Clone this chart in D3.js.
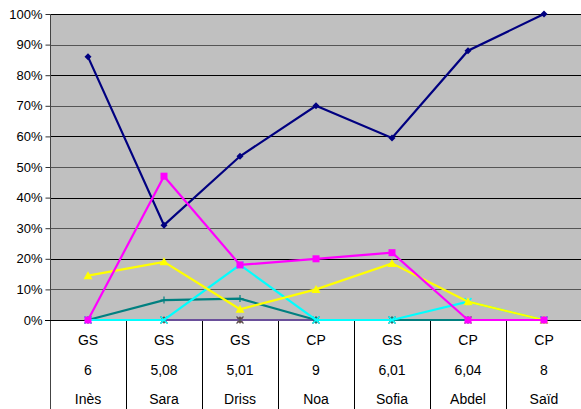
<!DOCTYPE html>
<html>
<head>
<meta charset="utf-8">
<script src="https://cdn.jsdelivr.net/npm/d3@7"></script>
<style>
  body { margin: 0; background: #fff; }
  text { font-family: "Liberation Sans", Arial, sans-serif; }
</style>
</head>
<body>
<svg id="chart" width="581" height="409"></svg>
<script>
// rows of the category table under the axis
const levels = ["GS", "GS", "GS", "CP", "GS", "CP", "CP"];
const ages = ["6", "5,08", "5,01", "9", "6,01", "6,04", "8"];
const names = ["Inès", "Sara", "Driss", "Noa", "Sofia", "Abdel", "Saïd"];

const yTicks = [0, 0.1, 0.2, 0.3, 0.4, 0.5, 0.6, 0.7, 0.8, 0.9, 1];

// series values (share, 0..1)
const sNavy    = [0.86, 0.31, 0.535, 0.70, 0.595, 0.88, 1.00];
const sMaroon  = [0, 0, 0, 0, 0, 0, 0];
const sPurple  = [0, 0, 0, 0, 0, 0, 0];
const sTeal    = [0, 0.065, 0.07, 0, 0, 0, 0];
const sYellow  = [0.145, 0.19, 0.035, 0.10, 0.185, 0.06, 0];
const sCyan    = [0, 0, 0.18, 0, 0, 0.06, 0];
const sMagenta = [0, 0.47, 0.18, 0.20, 0.22, 0, 0];

const series = [
  {v: sMaroon,  color: "#800000", marker: "circle"},
  {v: sPurple,  color: "#6a4f9a", marker: "star"},
  {v: sTeal,    color: "#008080", marker: "plus"},
  {v: sNavy,    color: "#000080", marker: "diamond"},
  {v: sCyan,    color: "#00ffff", marker: "x"},
  {v: sYellow,  color: "#ffff00", marker: "triangle"},
  {v: sMagenta, color: "#ff00ff", marker: "square"}
];

const svg = d3.select("#chart");
const plotL = 50, plotR = 582, plotT = 14, plotB = 320;

const x = d3.scaleBand().domain(names).range([plotL, plotR]);
const y = d3.scaleLinear().domain([0, 1]).range([plotB, plotT]);

// plot background
svg.append("rect")
  .attr("x", plotL).attr("y", plotT)
  .attr("width", plotR - plotL).attr("height", plotB - plotT)
  .attr("fill", "#c0c0c0");

// gridlines
svg.selectAll("line.grid")
  .data(yTicks.filter(d => d > 0))
  .enter().append("line")
  .attr("x1", plotL).attr("x2", plotR)
  .attr("y1", d => Math.round(y(d)) + 0.5).attr("y2", d => Math.round(y(d)) + 0.5)
  .attr("stroke", (d, i) => i % 2 === 1 ? "#000" : "#555")
  .attr("stroke-width", 1);

// y axis
const yAxis = d3.axisLeft(y).tickValues(yTicks)
  .tickFormat(d => Math.round(d * 100) + "%").tickSize(5).tickPadding(3);
const ga = svg.append("g").attr("transform", `translate(${plotL + 0.5},0)`).call(yAxis);
ga.select(".domain").remove();
ga.selectAll(".tick line").attr("stroke", "#333");
ga.selectAll("text").attr("font-size", 13).attr("fill", "#000")
  .attr("font-family", "Liberation Sans, Arial, sans-serif");
svg.append("line")
  .attr("x1", plotL + 0.5).attr("x2", plotL + 0.5)
  .attr("y1", plotT).attr("y2", 409)
  .attr("stroke", "#444");

// table grid under axis
svg.append("line")
  .attr("x1", plotL - 5).attr("x2", plotR)
  .attr("y1", plotB + 0.5).attr("y2", plotB + 0.5)
  .attr("stroke", "#000");
svg.selectAll("line.sep")
  .data(names.slice(1))
  .enter().append("line")
  .attr("x1", d => Math.round(x(d)) + 0.5).attr("x2", d => Math.round(x(d)) + 0.5)
  .attr("y1", plotB).attr("y2", 409)
  .attr("stroke", "#000");

const rows = [levels, ages, names];
const rowY = [345, 375, 404];
rows.forEach((row, r) => {
  svg.selectAll("text.row" + r)
    .data(row)
    .enter().append("text")
    .attr("class", "row" + r)
    .attr("x", (d, i) => x(names[i]) + x.bandwidth() / 2)
    .attr("y", rowY[r])
    .attr("text-anchor", "middle")
    .attr("font-size", 14)
    .text(d => d);
});

// lines and markers
const line = d3.line()
  .x((d, i) => x(names[i]) + x.bandwidth() / 2)
  .y(d => y(d));

function drawMarker(g, type, color) {
  const s = 3.5;
  if (type === "diamond") {
    g.append("path").attr("d", `M0,${-s}L${s},0L0,${s}L${-s},0Z`).attr("fill", color);
  } else if (type === "square") {
    g.append("rect").attr("x", -s).attr("y", -s).attr("width", 2 * s).attr("height", 2 * s).attr("fill", color);
  } else if (type === "triangle") {
    g.append("path").attr("d", `M0,${-s - 1}L${s + 1},${s}L${-s - 1},${s}Z`).attr("fill", color);
  } else if (type === "x") {
    g.append("path").attr("d", `M${-s},${-s}L${s},${s}M${s},${-s}L${-s},${s}`)
      .attr("stroke", color).attr("stroke-width", 1.5);
  } else if (type === "star") {
    g.append("path").attr("d", `M${-s},${-s}L${s},${s}M${s},${-s}L${-s},${s}M0,${-s}L0,${s}`)
      .attr("stroke", "#555").attr("stroke-width", 1.2);
  } else if (type === "plus") {
    g.append("path").attr("d", `M${-s},0L${s},0M0,${-s}L0,${s}`)
      .attr("stroke", color).attr("stroke-width", 1.2);
  } else if (type === "circle") {
    g.append("circle").attr("r", 2.8).attr("fill", color);
  }
}

series.forEach(s => {
  svg.append("path")
    .datum(s.v)
    .attr("d", line)
    .attr("fill", "none")
    .attr("stroke", s.color)
    .attr("stroke-width", 2.2);
  s.v.forEach((d, i) => {
    const g = svg.append("g")
      .attr("transform", `translate(${x(names[i]) + x.bandwidth() / 2},${y(d)})`);
    drawMarker(g, s.marker, s.color);
  });
});
</script>
</body>
</html>
